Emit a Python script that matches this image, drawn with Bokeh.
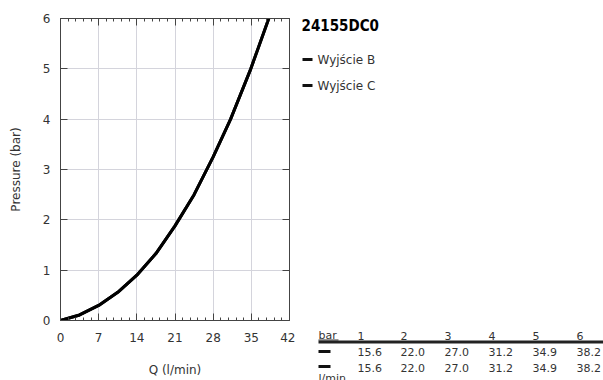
from bokeh.plotting import figure
from bokeh.models import LinearAxis, FixedTicker, Range1d
from bokeh.layouts import row
from bokeh.core.properties import value
from bokeh.embed import file_html
from bokeh.resources import INLINE

# ---- data ----
chart_title = "24155DC0"
series_names = ["Wyjście B", "Wyjście C"]
bar_levels = [1, 2, 3, 4, 5, 6]
flow_b = [15.6, 22.0, 27.0, 31.2, 34.9, 38.2]
flow_c = [15.6, 22.0, 27.0, 31.2, 34.9, 38.2]
# curve points (Q in l/min, pressure in bar)
curve_q = [0, 3.5, 7, 10.5, 14, 17.5, 21.0, 24.5, 28.0, 31.2, 34.9, 38.2]
curve_p = [0, 0.11, 0.30, 0.56, 0.90, 1.33, 1.88, 2.50, 3.25, 4.0, 5.0, 6.0]
x_ticks = [0, 7, 14, 21, 28, 35, 42]
x_minor = [0, 1.4, 2.8, 4.2, 5.6, 7, 8.4, 9.8, 11.2, 12.6, 14, 15.4, 16.8, 18.2, 19.6, 21,
           22.4, 23.8, 25.2, 26.6, 28, 29.4, 30.8, 32.2, 33.6, 35, 36.4, 37.8, 39.2, 40.6, 42]
y_ticks = [0, 1, 2, 3, 4, 5, 6]

H = 380
W_MAIN = 295
W_SIDE = 603 - W_MAIN
FONT = "DejaVu Sans"

p = figure(width=W_MAIN, height=H, x_range=Range1d(0, 42), y_range=Range1d(0, 6),
           output_backend="svg", toolbar_location=None,
           min_border_left=60, min_border_right=6, min_border_top=18, min_border_bottom=60)
p.outline_line_color = None
p.background_fill_color = "white"
p.border_fill_color = "white"
p.frame_align = False

axis_color = "#444444"
for ax in [p.xaxis[0], p.yaxis[0]]:
    ax.axis_line_color = axis_color
    ax.major_tick_line_color = axis_color
    ax.minor_tick_line_color = axis_color
    ax.major_tick_in = 7
    ax.major_tick_out = 0
    ax.minor_tick_in = 3
    ax.minor_tick_out = 0
    ax.major_label_text_font = FONT
    ax.major_label_text_font_size = "12px"
    ax.major_label_text_color = "#333333"
    ax.axis_label_text_font = FONT
    ax.axis_label_text_font_size = "12px"
    ax.axis_label_text_font_style = "normal"
    ax.axis_label_text_color = "#333333"

p.xaxis[0].ticker = FixedTicker(ticks=x_ticks, minor_ticks=x_minor)
p.yaxis[0].ticker = FixedTicker(ticks=y_ticks)
p.yaxis[0].minor_tick_line_color = None
p.xaxis[0].major_label_standoff = 12
p.yaxis[0].major_label_standoff = 10
p.xaxis[0].axis_label = "Q (l/min)"
p.yaxis[0].axis_label = "Pressure (bar)"
p.xaxis[0].axis_label_standoff = 18
p.yaxis[0].axis_label_standoff = 17

top = LinearAxis(ticker=FixedTicker(ticks=x_ticks, minor_ticks=x_minor),
                 major_label_text_font_size="1px", major_label_text_color=None,
                 axis_line_color=axis_color,
                 major_tick_line_color=axis_color, minor_tick_line_color=axis_color,
                 major_tick_in=7, major_tick_out=0, minor_tick_in=3, minor_tick_out=0,
                 major_label_standoff=0)
right = LinearAxis(ticker=FixedTicker(ticks=y_ticks),
                   major_label_text_font_size="1px", major_label_text_color=None,
                   axis_line_color=axis_color, major_tick_line_color=axis_color,
                   minor_tick_line_color=None, major_tick_in=7, major_tick_out=0,
                   major_label_standoff=0)
p.add_layout(top, "above")
p.add_layout(right, "right")

p.xgrid.ticker = FixedTicker(ticks=x_ticks)
p.ygrid.ticker = FixedTicker(ticks=y_ticks)
p.xgrid.grid_line_color = "#d4d4dc"
p.ygrid.grid_line_color = "#d4d4dc"

for name in series_names:
    p.line(curve_q, curve_p, line_color="black", line_width=3, line_join="round", line_cap="round")

# ---- side panel: title, legend and table, in page pixel coordinates ----
s = figure(width=W_SIDE, height=H, x_range=Range1d(W_MAIN, 603), y_range=Range1d(H, 0),
           output_backend="svg", toolbar_location=None,
           min_border_left=0, min_border_right=0, min_border_top=0, min_border_bottom=0)
s.axis.visible = False
s.grid.visible = False
s.outline_line_color = None
s.background_fill_color = "white"
s.border_fill_color = "white"
s.frame_align = False


def txt(xs, ys, texts, size="12px", style="normal", color="#333333", font=FONT):
    s.text(x=xs, y=ys, text=texts, text_font=value(font), text_font_size=value(size),
           text_font_style=style, text_color=color, text_align="left", text_baseline="middle")


def bar(x0, x1, y0, y1, color="#111111"):
    s.quad(left=[x0], right=[x1], top=[y0], bottom=[y1], fill_color=color, line_color=None)


txt([301], [25], [chart_title], size="15px", style="bold", color="black", font="DejaVu Sans Condensed")
leg_y = [59 + 26 * i for i in range(len(series_names))]
for yy in leg_y:
    bar(302, 312, yy - 1.5, yy + 1.5)
txt([317] * len(series_names), leg_y, series_names)

# table
col_x = [357, 400, 444, 488, 532, 576]
txt([318], [335], ["bar"], size="11px")
bar(318, 338, 339, 340, color="#333333")
txt(col_x, [335] * len(col_x), [str(b) for b in bar_levels], size="11px")
bar(318, 603, 340, 343, color="#222222")
for r, flows in enumerate([flow_b, flow_c]):
    yy = 351 + 16 * r
    bar(318, 330, yy - 1.5 - r, yy + 1.5 - r)
    txt(col_x, [yy] * len(col_x), [f"{f:.1f}" for f in flows], size="11px")
txt([318], [378], ["l/min"], size="11px")

layout = row(p, s, spacing=0)
open("out.html", "w").write(file_html(layout, INLINE))
